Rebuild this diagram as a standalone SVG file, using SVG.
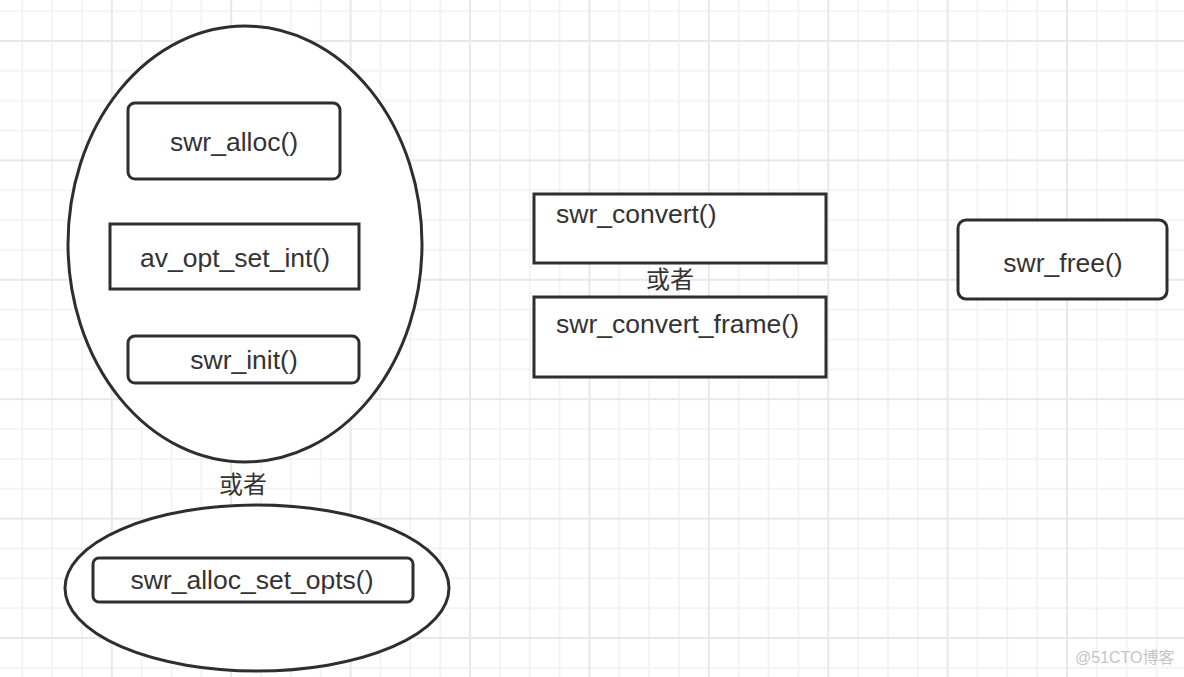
<svg xmlns="http://www.w3.org/2000/svg" width="1184" height="677" viewBox="0 0 1184 677">
  <defs>
    <pattern id="grid" patternUnits="userSpaceOnUse" x="-8.6" y="-79.4" width="119.4" height="119.4">
      <g stroke="#f1f1f1" stroke-width="1.6">
        <line x1="30.85" y1="0" x2="30.85" y2="119.4"/>
        <line x1="60.7" y1="0" x2="60.7" y2="119.4"/>
        <line x1="90.55" y1="0" x2="90.55" y2="119.4"/>
        <line x1="0" y1="30.85" x2="119.4" y2="30.85"/>
        <line x1="0" y1="60.7" x2="119.4" y2="60.7"/>
        <line x1="0" y1="90.55" x2="119.4" y2="90.55"/>
      </g>
      <g stroke="#e8e8e8" stroke-width="2">
        <line x1="1" y1="0" x2="1" y2="119.4"/>
        <line x1="0" y1="1" x2="119.4" y2="1"/>
      </g>
    </pattern>
    <style>
      .shape { fill: #ffffff; stroke: #2e2e2e; stroke-width: 3; }
      .lbl { font-family: "Liberation Sans", Arial, "Noto Sans CJK SC", sans-serif; font-size: 26.5px; fill: #333333; }
      .mid { text-anchor: middle; }
      .cjk { font-family: "Noto Sans CJK SC", "Liberation Sans", sans-serif; font-size: 24px; fill: #333333; text-anchor: middle; }
      .wm { font-family: "Liberation Sans", "Noto Sans CJK SC", sans-serif; font-size: 16px; fill: #c4c4c4; }
    </style>
  </defs>
  <rect x="0" y="0" width="1184" height="677" fill="#ffffff"/>
  <rect x="0" y="0" width="1184" height="677" fill="url(#grid)"/>

  <g id="group-init">
    <ellipse class="shape" cx="245" cy="244" rx="177" ry="218"/>
  </g>
  <g id="node-swr-alloc">
    <rect class="shape" x="128" y="103" width="212" height="76" rx="7"/>
    <text class="lbl mid" x="234" y="151">swr_alloc()</text>
  </g>
  <g id="node-av-opt-set-int">
    <rect class="shape" x="110" y="224" width="249" height="65"/>
    <text class="lbl mid" x="235" y="267">av_opt_set_int()</text>
  </g>
  <g id="node-swr-init">
    <rect class="shape" x="128" y="336" width="231" height="47" rx="7"/>
    <text class="lbl mid" x="244" y="369">swr_init()</text>
  </g>
  <g id="label-or-1">
    <text class="cjk" x="243" y="493">或者</text>
  </g>
  <g id="group-alloc-set-opts">
    <ellipse class="shape" cx="257" cy="588" rx="192" ry="83"/>
  </g>
  <g id="node-swr-alloc-set-opts">
    <rect class="shape" x="93" y="558" width="320" height="44" rx="6"/>
    <text class="lbl mid" x="252" y="589">swr_alloc_set_opts()</text>
  </g>

  <g id="node-swr-convert">
    <rect class="shape" x="534" y="194" width="292" height="69"/>
    <text class="lbl" x="556" y="223">swr_convert()</text>
  </g>
  <g id="label-or-2">
    <text class="cjk" x="670" y="288">或者</text>
  </g>
  <g id="node-swr-convert-frame">
    <rect class="shape" x="534" y="297" width="292" height="80"/>
    <text class="lbl" x="556" y="333">swr_convert_frame()</text>
  </g>

  <g id="node-swr-free">
    <rect class="shape" x="958" y="220" width="209" height="79" rx="8"/>
    <text class="lbl mid" x="1063" y="272">swr_free()</text>
  </g>

  <g id="connectors"></g>

  <text class="wm" x="1075" y="663">@51CTO博客</text>
</svg>
